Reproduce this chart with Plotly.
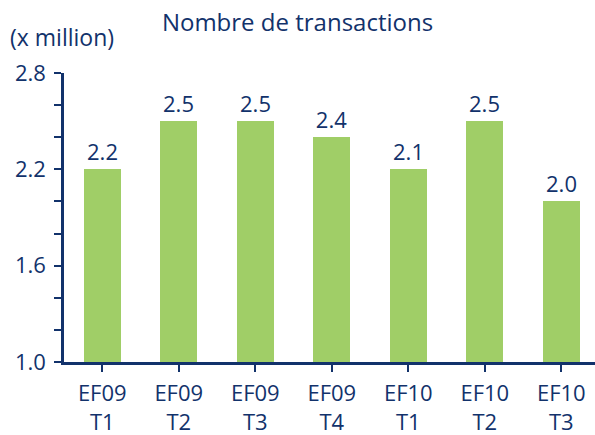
import plotly.graph_objects as go

categories = ["EF09<br>T1", "EF09<br>T2", "EF09<br>T3", "EF09<br>T4", "EF10<br>T1", "EF10<br>T2", "EF10<br>T3"]
bar_values = [2.2, 2.5, 2.5, 2.4, 2.2, 2.5, 2.0]
value_labels = ["2.2", "2.5", "2.5", "2.4", "2.1", "2.5", "2.0"]
y_tick_vals = [1.0, 1.6, 2.2, 2.8]
y_tick_text = ["1.0", "1.6", "2.2", "2.8"]

NAVY = "#12326B"
GREEN = "#A0CE67"
FONT = "Open Sans"

fig = go.Figure()
fig.add_trace(go.Bar(
    x=list(range(len(categories))),
    y=bar_values,
    width=0.48,
    marker=dict(color=GREEN, line=dict(width=0)),
    text=value_labels,
    textposition="outside",
    textfont=dict(family=FONT, size=22, color=NAVY),
    cliponaxis=False,
))

fig.update_layout(
    width=595, height=435,
    margin=dict(l=64, r=0, t=73, b=73),
    paper_bgcolor="white", plot_bgcolor="white",
    showlegend=False,
    bargap=0,
    font=dict(family=FONT, color=NAVY),
    title=dict(text="Nombre de transactions", x=0.5, xanchor="center",
               y=1 - 23 / 435, yanchor="middle",
               font=dict(family=FONT, size=24, color=NAVY)),
    annotations=[dict(text="(x million)", xref="paper", yref="paper",
                      x=-64 / 531 + 8 / 531, xanchor="left",
                      y=1 + 36 / 289, yanchor="middle", showarrow=False,
                      font=dict(family=FONT, size=23, color=NAVY))],
)

fig.update_xaxes(
    range=[-0.5, 6.44],
    tickmode="array",
    tickvals=list(range(len(categories))),
    ticktext=categories,
    tickfont=dict(family=FONT, size=22, color=NAVY),
    showline=True, linecolor=NAVY, linewidth=2.5,
    ticks="outside", tickson="boundaries", ticklen=7, tickwidth=2, tickcolor=NAVY,
    ticklabelstandoff=3,
    showgrid=False, zeroline=False,
)
fig.update_yaxes(
    range=[1.0, 2.8],
    tickmode="array",
    tickvals=y_tick_vals,
    ticktext=y_tick_text,
    tickfont=dict(family=FONT, size=22, color=NAVY),
    showline=True, linecolor=NAVY, linewidth=2.5,
    ticks="outside", ticklen=7, tickwidth=2, tickcolor=NAVY,
    minor=dict(tickmode="linear", tick0=1.0, dtick=0.2, ticks="outside", ticklen=7, tickwidth=2, tickcolor=NAVY, showgrid=False),
    ticklabelstandoff=4,
    showgrid=False, zeroline=False,
)

fig.write_html("out.html", config={"displayModeBar": False},
               post_script="document.body.style.margin='0';document.body.style.overflow='hidden';")
